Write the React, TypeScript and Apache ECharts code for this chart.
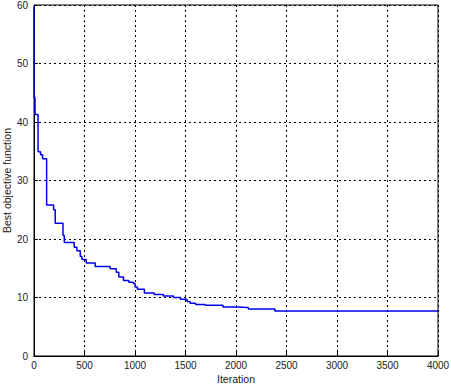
import React, { useEffect, useRef } from "react";
import * as echarts from "echarts";

const iterations = [0, 1, 10, 40, 65, 85, 125, 194, 210, 287, 300, 398, 425, 458, 475, 517, 606, 754, 814, 840, 886, 939, 985, 1001, 1024, 1093, 1190, 1281, 1380, 1450, 1515, 1545, 1600, 1694, 1871, 2006, 2122, 2385, 4000];
const bestValues = [59.8, 44.2, 41.3, 34.9, 34.4, 33.7, 25.8, 25.0, 22.7, 20.6, 19.4, 18.6, 18.0, 17.0, 16.5, 15.9, 15.3, 14.9, 14.3, 13.5, 12.9, 12.6, 12.4, 11.8, 11.4, 10.75, 10.5, 10.25, 10.0, 9.7, 9.3, 9.0, 8.8, 8.66, 8.37, 8.27, 8.05, 7.7, 7.7];

const xTitle = "Iteration";
const yTitle = "Best objective function";

export default function App() {
  const ref = useRef<HTMLDivElement>(null);
  useEffect(() => {
    if (!ref.current) return;
    const chart = echarts.init(ref.current, null, { renderer: "svg" });
    const font = "Liberation Sans, Arial, sans-serif";
    const split = { show: true, lineStyle: { color: "#000", type: [2, 3] as any, width: 1 } };
    const label = { color: "#222", fontSize: 10, fontFamily: font, margin: 6, lineHeight: 9, formatter: (v: number) => String(v) };
    chart.setOption({
      animation: false,
      backgroundColor: "#fff",
      grid: {
        left: 34, right: 13, top: 5, bottom: 29,
        containLabel: false,
        outerBoundsMode: "none",
        show: true, borderColor: "#000", borderWidth: 1, backgroundColor: "transparent",
      } as any,
      xAxis: {
        type: "value",
        min: 0,
        max: 4000,
        interval: 500,
        name: xTitle,
        nameLocation: "middle",
        nameGap: 17,
        nameMoveOverlap: false,
        nameTextStyle: { color: "#222", fontSize: 10.5, fontFamily: font },
        axisLine: { show: true, lineStyle: { color: "#000" } },
        axisTick: { show: true, inside: true, length: 4, lineStyle: { color: "#000" } },
        axisLabel: { ...label, margin: 5 },
        splitLine: split,
      } as any,
      yAxis: {
        type: "value",
        min: 0,
        max: 60,
        interval: 10,
        name: yTitle,
        nameLocation: "middle",
        nameGap: 22,
        nameMoveOverlap: false,
        nameTextStyle: { color: "#222", fontSize: 10.5, fontFamily: font },
        axisLine: { show: true, lineStyle: { color: "#000" } },
        axisTick: { show: true, inside: true, length: 4, lineStyle: { color: "#000" } },
        axisLabel: label,
        splitLine: split,
      } as any,
      series: [
        {
          type: "line",
          step: "end",
          data: iterations.map((x, i) => [x, bestValues[i]]),
          showSymbol: false,
          lineStyle: { color: "#0000ee", width: 1.5 },
        },
      ],
    });
    return () => chart.dispose();
  }, []);
  return <div ref={ref} style={{ width: 451, height: 385, position: "absolute", left: 0, top: 0 }} />;
}
